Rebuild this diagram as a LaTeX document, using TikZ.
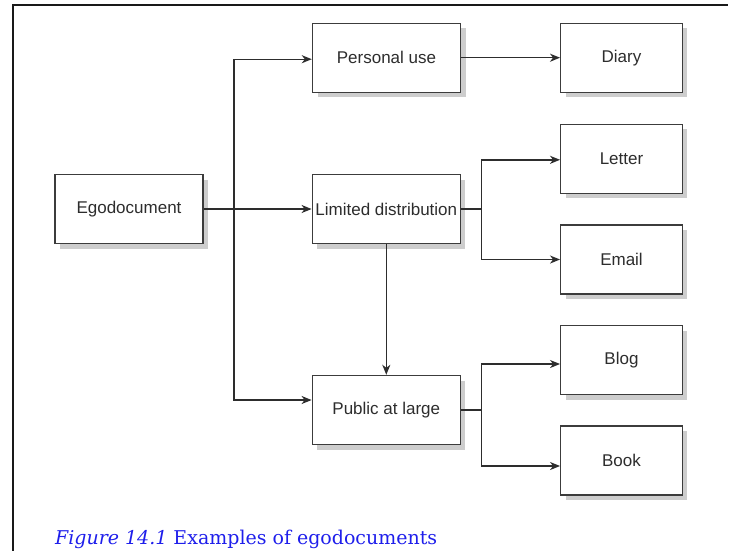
\documentclass[tikz,border=0pt]{standalone}
\usepackage{fontspec}
\usepackage{graphicx}
\usetikzlibrary{arrows.meta,shadows,calc}
\newfontfamily\boxfont{Liberation Sans}
\newfontfamily\capfont{DejaVu Serif}
\definecolor{boxline}{RGB}{60,60,60}
\definecolor{txtgray}{RGB}{45,45,45}
\definecolor{shadowgray}{RGB}{205,205,205}
\definecolor{capblue}{RGB}{30,30,235}
\tikzset{
  box/.style={draw=boxline, line width=1.4pt, fill=white, inner sep=0pt,
    minimum height=69pt, text=txtgray, font=\boxfont\fontsize{17}{20}\selectfont,
    drop shadow={shadow xshift=5pt, shadow yshift=-5pt, fill=shadowgray, opacity=1}},
  midbox/.style={box, minimum width=148pt},
  leafbox/.style={box, minimum width=121.5pt},
  conn/.style={draw=txtgray, line width=1.4pt},
  arr/.style={conn, -{Stealth[length=10pt,width=8pt,inset=3pt]}}
}
\begin{document}
\begin{tikzpicture}[x=1pt,y=-1pt]
\useasboundingbox (0,0) rectangle (730,550);
\draw[line width=2pt, black!90] (12.5,551) -- (12.5,5) -- (728,5);

\node[midbox] (ego) at (129,209) {Egodocument};
\node[midbox] (pers) at (386.5,57.7) {Personal use};
\node[midbox] (lim) at (386.3,209) {Limited distribution};
\node[midbox] (pub) at (386.3,410) {Public at large};
\node[leafbox] (diary) at (621.5,57.7) {Diary};
\node[leafbox] (letter) at (621.5,158.8) {Letter};
\node[leafbox] (email) at (621.5,259.5) {Email};
\node[leafbox] (blog) at (621.5,360) {Blog};
\node[leafbox] (book) at (621.5,460.5) {Book};

\coordinate (ja) at (234,209);
\coordinate (jb) at (481.5,209);
\coordinate (jc) at (481.5,410);

\draw[arr] (ego.east) -- (lim.west);
\draw[arr] (ja) |- ($(pers.west)+(0,1.5)$);
\draw[arr] (ja) |- ($(pub.west)+(0,-10)$);
\draw[arr] (pers.east) -- (diary.west);
\draw[conn] (lim.east) -- (jb);
\draw[arr] (jb) |- ($(letter.west)+(0,1)$);
\draw[arr] (jb) |- (email.west);
\draw[arr] (lim.south) -- (pub.north);
\draw[conn] (pub.east) -- (jc);
\draw[arr] (jc) |- ($(blog.west)+(0,4)$);
\draw[arr] (jc) |- ($(book.west)+(0,5.5)$);

\node[anchor=base west, inner sep=0pt, text=capblue] (cap) at (55,544)
  {\resizebox{382pt}{!}{\capfont\fontsize{17}{20}\selectfont\textit{Figure 14.1} Examples of egodocuments}};
\end{tikzpicture}
\end{document}
